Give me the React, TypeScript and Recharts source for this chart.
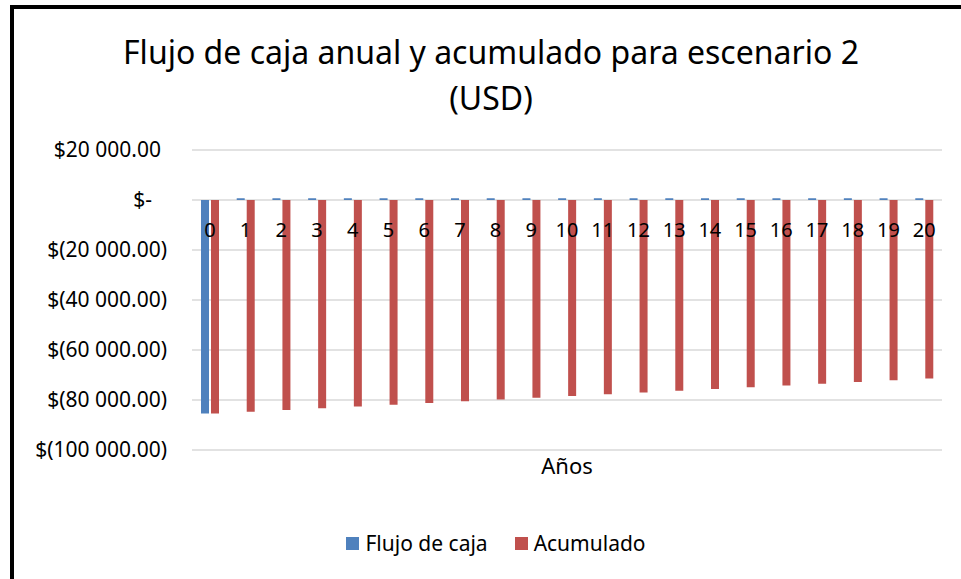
import { Bar, BarChart, CartesianGrid, Legend, XAxis, YAxis } from 'recharts';

const years = ['0', '1', '2', '3', '4', '5', '6', '7', '8', '9', '10', '11', '12', '13', '14', '15', '16', '17', '18', '19', '20'];
const flujo = [-85400, 700, 700, 700, 700, 700, 700, 700, 700, 700, 700, 700, 700, 700, 700, 700, 700, 700, 700, 700, 700];
const acumulado = [
  -85400, -84700, -84000, -83300, -82600, -81900, -81200, -80500, -79800, -79100, -78400,
  -77700, -77000, -76300, -75600, -74900, -74200, -73500, -72800, -72100, -71400,
];
const yTicks = [-100000, -80000, -60000, -40000, -20000, 0, 20000];

const BLUE = '#4F81BD';
const RED = '#C0504D';
const FONT = '"Noto Sans", "Open Sans", sans-serif';

const W = 947;
const H = 570;
const MARGIN = { top: 141, right: 19, left: 0, bottom: 22 };
const X_AXIS_H = 79;
const LEGEND_H = 28;
const Y_MIN = -100000;
const Y_MAX = 20000;
const PLOT_H = H - MARGIN.top - MARGIN.bottom - X_AXIS_H - LEGEND_H;
// y of the zero line, from the value scale, so the category labels sit on it like in Excel
const ZERO_Y = MARGIN.top + (PLOT_H * Y_MAX) / (Y_MAX - Y_MIN);

const data = years.map((y, i) => ({ year: y, flujo: flujo[i], acumulado: acumulado[i] }));

function money(v: number) {
  if (v === 0) return '$-';
  const s = Math.abs(v)
    .toFixed(2)
    .replace(/\B(?=(\d{3})+(?!\d))/g, ' ');
  return v < 0 ? `$(${s})` : `$${s}`;
}

function YTick({ x, y, payload }: any) {
  const v = payload.value as number;
  const dx = v < 0 ? 0 : v === 0 ? -15 : -6;
  return (
    <text x={x + dx} y={y} dy={7} textAnchor="end" fontSize={21} fontFamily={FONT} fill="#000">
      {money(v)}
    </text>
  );
}

function XTick({ x, payload }: any) {
  return (
    <text x={x} y={ZERO_Y + 37} textAnchor="middle" fontSize={20} fontFamily={FONT} fill="#000">
      {payload.value}
    </text>
  );
}

function LegendBox() {
  const items = [
    { name: 'Flujo de caja', color: BLUE },
    { name: 'Acumulado', color: RED },
  ];
  return (
    <div
      style={{
        display: 'flex',
        justifyContent: 'center',
        gap: 27,
        height: LEGEND_H,
        lineHeight: `${LEGEND_H}px`,
        fontFamily: FONT,
        fontSize: 21,
        color: '#000',
        paddingLeft: 36,
      }}
    >
      {items.map((it) => (
        <span key={it.name} style={{ display: 'flex', alignItems: 'center', gap: 6 }}>
          <span style={{ width: 13, height: 13, background: it.color, display: 'inline-block' }} />
          {it.name}
        </span>
      ))}
    </div>
  );
}

export default function App() {
  return (
    <div
      style={{
        position: 'absolute',
        left: 10,
        top: 5,
        width: 951,
        height: 574,
        borderTop: '4px solid #000',
        borderLeft: '4px solid #000',
        boxSizing: 'border-box',
        background: '#fff',
        overflow: 'hidden',
      }}
    >
      <div
        style={{
          position: 'absolute',
          top: 20,
          left: 0,
          width: W,
          paddingLeft: 7,
          boxSizing: 'border-box',
          textAlign: 'center',
          fontFamily: FONT,
          fontSize: 32,
          lineHeight: '46px',
          color: '#000',
        }}
      >
        Flujo de caja anual y acumulado para escenario 2
        <br />
        (USD)
      </div>
      <BarChart width={W} height={H} data={data} margin={MARGIN} barSize={8} barGap={2}>
        <CartesianGrid vertical={false} stroke="#D9D9D9" strokeWidth={1.5} />
        <XAxis
          dataKey="year"
          axisLine={false}
          tickLine={false}
          height={X_AXIS_H}
          interval={0}
          tick={<XTick />}
          label={{ value: 'Años', position: 'insideTop', offset: 8, fontSize: 22, fontFamily: FONT, fill: '#000' }}
        />
        <YAxis
          domain={[Y_MIN, Y_MAX]}
          ticks={yTicks}
          width={178}
          axisLine={false}
          tickLine={false}
          tickSize={0}
          tickMargin={25}
          interval={0}
          tick={<YTick />}
        />
        <Legend verticalAlign="bottom" content={<LegendBox />} />
        <Bar dataKey="flujo" name="Flujo de caja" fill={BLUE} isAnimationActive={false} />
        <Bar dataKey="acumulado" name="Acumulado" fill={RED} isAnimationActive={false} />
      </BarChart>
    </div>
  );
}
